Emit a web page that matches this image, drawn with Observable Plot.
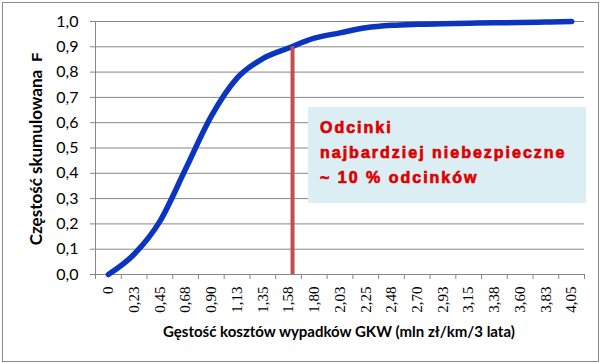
<!DOCTYPE html>
<html><head><meta charset="utf-8">
<script src="https://cdn.jsdelivr.net/npm/d3@7"></script>
<script src="https://cdn.jsdelivr.net/npm/@observablehq/plot@0.6"></script>
<style>
body{margin:0;background:#fff;}
#wrap{position:relative;width:603px;height:363px;overflow:hidden;background:#fff;}
#border{position:absolute;left:2px;top:2px;width:595px;height:358px;border:1px solid #8c8c8c;pointer-events:none;}
#note{position:absolute;left:308px;top:107px;width:278px;height:96px;background:#daeef3;box-sizing:border-box;padding:8px 0 0 12px;font-family:"Liberation Sans",Arial,sans-serif;font-weight:bold;font-size:16px;line-height:25px;color:#dd0000;letter-spacing:2px;white-space:nowrap;-webkit-text-stroke:0.7px #dd0000;}
#ytitle{position:absolute;left:35px;top:149px;transform:translate(-50%,-50%) rotate(-90deg);white-space:nowrap;font-family:Lato,sans-serif;font-weight:bold;font-size:17px;color:#000;}
#ytitle span{font-family:"Liberation Sans",Arial,sans-serif;font-size:15px;margin-left:8px;}
#xtitle{position:absolute;left:339px;top:324px;transform:translateX(-50%);white-space:nowrap;font-family:Lato,sans-serif;font-weight:bold;font-size:15px;line-height:15px;color:#000;}
</style></head>
<body>
<div id="wrap">
  <div id="chart"></div>
  <div id="note">Odcinki<br>najbardziej niebezpieczne<br>~ 10 % odcinków</div>
  <div id="ytitle">Częstość skumulowana<span>F</span></div>
  <div id="xtitle">Gęstość kosztów wypadków GKW (mln zł/km/3 lata)</div>
  <div id="border"></div>
</div>
<script>
const xValues = [0, 0.225, 0.45, 0.675, 0.9, 1.125, 1.35, 1.575, 1.8, 2.025, 2.25, 2.475, 2.7, 2.925, 3.15, 3.375, 3.6, 3.825, 4.05];
const xTickLabels = ["0","0,23","0,45","0,68","0,90","1,13","1,35","1,58","1,80","2,03","2,25","2,48","2,70","2,93","3,15","3,38","3,60","3,83","4,05"];
const cumulativeF = [0, 0.08, 0.21, 0.417, 0.626, 0.776, 0.853, 0.895, 0.934, 0.955, 0.975, 0.985, 0.989, 0.991, 0.993, 0.995, 0.996, 0.998, 1.0];
const yTicks = [0, 0.1, 0.2, 0.3, 0.4, 0.5, 0.6, 0.7, 0.8, 0.9, 1.0];
const yTickLabels = ["0,0","0,1","0,2","0,3","0,4","0,5","0,6","0,7","0,8","0,9","1,0"];
const thresholdX = [1.61];
const thresholdF = [0.9];

const data = xValues.map((x, i) => ({x, f: cumulativeF[i]}));
const half = (xValues[1] - xValues[0]) / 2;
const xDomain = [xValues[0] - half, xValues[xValues.length - 1] + half];
const boundaries = xValues.map(v => v - half).concat([xDomain[1]]);
const labelOf = new Map(xValues.map((v, i) => [v, xTickLabels[i]]));
const yLabelOf = new Map(yTicks.map((v, i) => [v, yTickLabels[i]]));
const grid = "#878787";

const chart = Plot.plot({
  width: 603,
  height: 363,
  marginLeft: 95,
  marginRight: 19,
  marginTop: 21,
  marginBottom: 89,
  style: {background: "transparent", fontFamily: "Lato, sans-serif"},
  x: {domain: xDomain},
  y: {domain: [0, 1]},
  marks: [
    Plot.gridY(yTicks, {stroke: grid, strokeOpacity: 1, strokeWidth: 1}),
    Plot.ruleX([xDomain[0]], {stroke: grid, strokeWidth: 1, y1: 0, y2: 1}),
    Plot.axisY(yTicks, {tickSize: 5, tickPadding: 12, stroke: grid, fontSize: 16, fill: "#000",
      tickFormat: d => yLabelOf.get(d), label: null}),
    Plot.axisX(boundaries, {tickSize: 5, stroke: grid, tickFormat: () => "", label: null}),
    Plot.axisX(xValues, {tickSize: 0, tickPadding: 12, tickRotate: -90, fontSize: 15,
      fontFamily: "'Liberation Serif', serif", fill: "#000", tickFormat: d => labelOf.get(d), label: null}),
    Plot.line(data, {x: "x", y: "f", stroke: "#0b35c0", strokeWidth: 5.5, curve: "monotone-x", strokeLinecap: "round"}),
    Plot.ruleX(thresholdX, {y1: 0, y2: thresholdF[0], stroke: "#c0504d", strokeWidth: 4})
  ]
});
document.getElementById("chart").appendChild(chart);
</script>
</body></html>
